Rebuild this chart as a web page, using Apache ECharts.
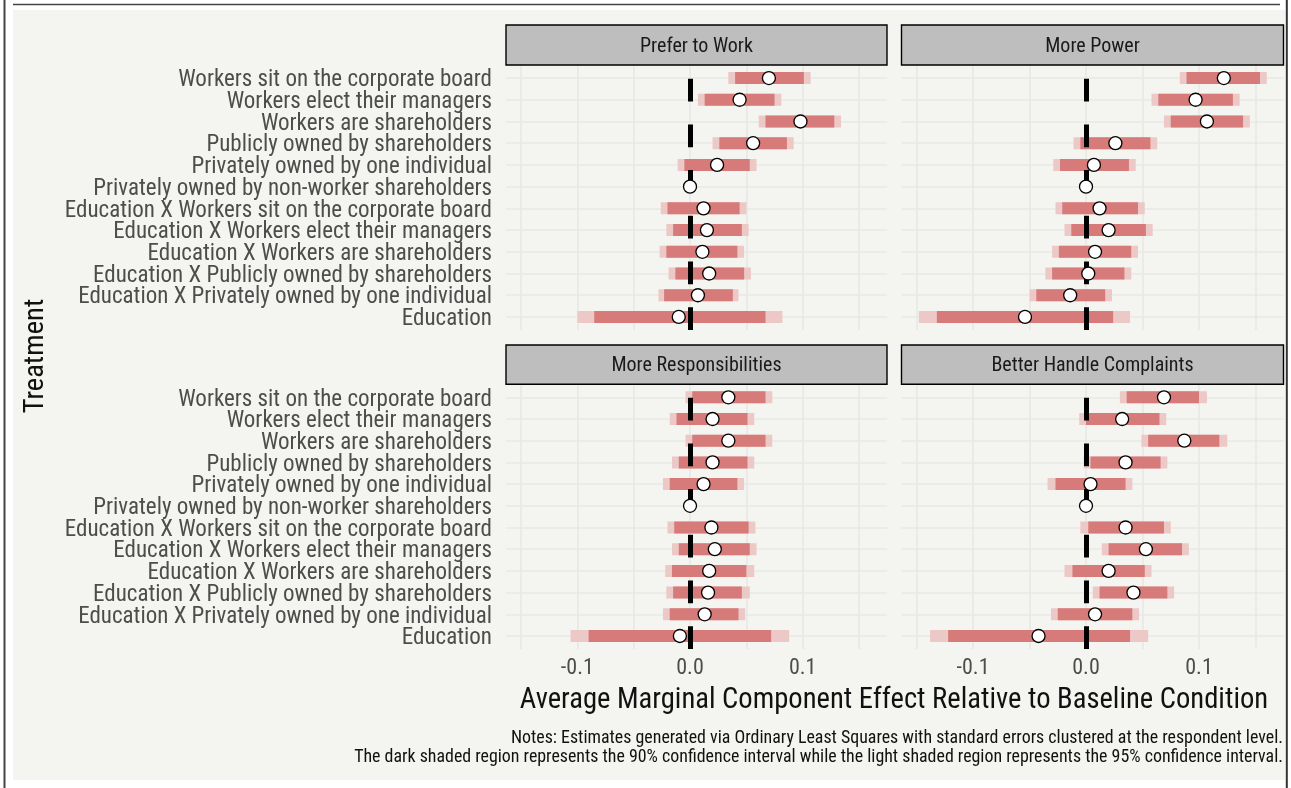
<!DOCTYPE html>
<html><head><meta charset="utf-8">
<script src="https://cdn.jsdelivr.net/npm/echarts@6/dist/echarts.min.js"></script>
<style>html,body{margin:0;padding:0;background:#ffffff}#c{width:1291px;height:788px}</style>
</head><body><div id="c"></div>
<script>
// ---------------- DATA ----------------
var categories = [
  "Workers sit on the corporate board",
  "Workers elect their managers",
  "Workers are shareholders",
  "Publicly owned by shareholders",
  "Privately owned by one individual",
  "Privately owned by non-worker shareholders",
  "Education X Workers sit on the corporate board",
  "Education X Workers elect their managers",
  "Education X Workers are shareholders",
  "Education X Publicly owned by shareholders",
  "Education X Privately owned by one individual",
  "Education"
];
var panelTitles = ["Prefer to Work", "More Power", "More Responsibilities", "Better Handle Complaints"];

var preferEst  = [0.070, 0.044, 0.098, 0.056, 0.024, 0, 0.012, 0.015, 0.011, 0.017, 0.007, -0.010];
var preferLo90 = [0.040, 0.013, 0.067, 0.026, -0.005, null, -0.020, -0.015, -0.021, -0.013, -0.023, -0.085];
var preferHi90 = [0.101, 0.075, 0.128, 0.086, 0.053, null, 0.044, 0.046, 0.042, 0.048, 0.038, 0.067];
var preferLo95 = [0.034, 0.007, 0.061, 0.020, -0.011, null, -0.026, -0.021, -0.027, -0.019, -0.028, -0.100];
var preferHi95 = [0.107, 0.081, 0.134, 0.092, 0.059, null, 0.050, 0.052, 0.048, 0.054, 0.043, 0.082];

var powerEst  = [0.122, 0.097, 0.107, 0.026, 0.007, 0, 0.012, 0.020, 0.008, 0.002, -0.014, -0.054];
var powerLo90 = [0.089, 0.064, 0.075, -0.005, -0.023, null, -0.021, -0.013, -0.024, -0.030, -0.044, -0.132];
var powerHi90 = [0.154, 0.130, 0.139, 0.057, 0.038, null, 0.046, 0.053, 0.040, 0.034, 0.017, 0.024];
var powerLo95 = [0.083, 0.058, 0.069, -0.011, -0.029, null, -0.027, -0.019, -0.030, -0.036, -0.050, -0.148];
var powerHi95 = [0.160, 0.136, 0.145, 0.063, 0.044, null, 0.052, 0.059, 0.046, 0.040, 0.023, 0.039];

var respEst  = [0.034, 0.020, 0.034, 0.020, 0.012, 0, 0.019, 0.022, 0.017, 0.016, 0.013, -0.009];
var respLo90 = [0.002, -0.012, 0.002, -0.010, -0.018, null, -0.014, -0.010, -0.016, -0.015, -0.018, -0.090];
var respHi90 = [0.067, 0.051, 0.067, 0.051, 0.042, null, 0.052, 0.053, 0.050, 0.046, 0.043, 0.072];
var respLo95 = [-0.004, -0.018, -0.004, -0.016, -0.024, null, -0.020, -0.016, -0.022, -0.021, -0.024, -0.106];
var respHi95 = [0.073, 0.057, 0.073, 0.057, 0.048, null, 0.058, 0.059, 0.057, 0.053, 0.049, 0.088];

var complEst  = [0.069, 0.032, 0.087, 0.035, 0.004, 0, 0.035, 0.053, 0.020, 0.042, 0.008, -0.042];
var complLo90 = [0.036, 0.000, 0.055, 0.004, -0.027, null, 0.002, 0.020, -0.012, 0.012, -0.025, -0.122];
var complHi90 = [0.100, 0.065, 0.118, 0.066, 0.035, null, 0.069, 0.085, 0.052, 0.072, 0.041, 0.039];
var complLo95 = [0.030, -0.006, 0.049, -0.002, -0.034, null, -0.005, 0.014, -0.019, 0.006, -0.031, -0.138];
var complHi95 = [0.107, 0.071, 0.125, 0.072, 0.041, null, 0.075, 0.091, 0.058, 0.078, 0.047, 0.055];

var xTickValues = [-0.1, 0.0, 0.1];
var xTickLabels = ["-0.1", "0.0", "0.1"];
var xGridValues = [-0.15, -0.1, -0.05, 0, 0.05, 0.1, 0.15];

var yTitle = "Treatment";
var xTitle = "Average Marginal Component Effect Relative to Baseline Condition";
var noteLines = [
  "Notes: Estimates generated via Ordinary Least Squares with standard errors clustered at the respondent level.",
  "The dark shaded region represents the 90% confidence interval while the light shaded region represents the 95% confidence interval."
];

// ---------------- LAYOUT / STYLE ----------------
var FONT = '"Roboto Condensed", Roboto, sans-serif';
var BG = '#f4f4f0';
var GRIDLINE = '#e8e8e5';
var DARK = '#d67b7a';
var LIGHT = '#ecc8c7';
var X_MIN = -0.1633, X_MAX = 0.1748;
var N = categories.length;

var panelData = [
  {est: preferEst, lo90: preferLo90, hi90: preferHi90, lo95: preferLo95, hi95: preferHi95},
  {est: powerEst,  lo90: powerLo90,  hi90: powerHi90,  lo95: powerLo95,  hi95: powerHi95},
  {est: respEst,   lo90: respLo90,   hi90: respHi90,   lo95: respLo95,   hi95: respHi95},
  {est: complEst,  lo90: complLo90,  hi90: complHi90,  lo95: complLo95,  hi95: complHi95}
];
var gridPos = [
  {left: 506, top: 65, width: 381, height: 265},
  {left: 901.5, top: 65, width: 382, height: 265},
  {left: 506, top: 384.3, width: 381, height: 264.7},
  {left: 901.5, top: 384.3, width: 382, height: 264.7}
];
var stripPos = [
  {x: 506, y: 25, w: 381, h: 40},
  {x: 901.5, y: 25, w: 382, h: 40},
  {x: 506, y: 345, w: 381, h: 39.3},
  {x: 901.5, y: 345, w: 382, h: 39.3}
];
var rowVals = [], evenRows = [], oddRows = [];
for (var r = 0; r < N; r++) { rowVals.push(r); (r % 2 === 0 ? evenRows : oddRows).push(r); }

function rowY(k) { return N - 1 - k; }

function barRenderer(color) {
  return function (params, api) {
    var y = api.value(2);
    var p1 = api.coord([api.value(0), y]);
    var p2 = api.coord([api.value(1), y]);
    var h = 12;
    return {type: 'rect', shape: {x: p1[0], y: p1[1] - h / 2, width: p2[0] - p1[0], height: h},
            style: {fill: color}};
  };
}
function yLabelStyle(values) {
  return {show: true, customValues: values, hideOverlap: false,
    formatter: function (v) { return categories[N - 1 - Math.round(v)]; },
    fontFamily: FONT, fontSize: 23, color: '#4d4d4d', margin: 14,
    verticalAlign: 'top', lineHeight: 5};
}

var grids = [], xAxes = [], yAxes = [], series = [];
panelData.forEach(function (pd, i) {
  grids.push({left: gridPos[i].left, top: gridPos[i].top, width: gridPos[i].width, height: gridPos[i].height, containLabel: false});
  xAxes.push({
    type: 'value', gridIndex: i, min: X_MIN, max: X_MAX,
    axisLine: {show: false},
    axisTick: {show: false, customValues: xGridValues},
    axisLabel: {show: i >= 2, customValues: xTickValues, hideOverlap: false,
      formatter: function (v) { var idx = xTickValues.indexOf(Math.round(v * 100) / 100); return idx >= 0 ? xTickLabels[idx] : ''; },
      fontFamily: FONT, fontSize: 22, color: '#4d4d4d', margin: 8},
    splitLine: {show: true, lineStyle: {color: GRIDLINE, width: 1.6}}
  });
  var yIdx = yAxes.length;
  var mainLabel = (i % 2 === 0) ? yLabelStyle(evenRows) : {show: false};
  yAxes.push({
    type: 'value', gridIndex: i, position: 'left', min: -0.6, max: N - 0.4,
    axisLine: {show: false},
    axisTick: {show: false, customValues: rowVals},
    axisLabel: mainLabel,
    splitLine: {show: true, lineStyle: {color: GRIDLINE, width: 1.6}}
  });
  if (i % 2 === 0) {
    yAxes.push({
      type: 'value', gridIndex: i, position: 'left', offset: 0, min: -0.6, max: N - 0.4,
      axisLine: {show: false},
      axisTick: {show: false, customValues: oddRows},
      axisLabel: yLabelStyle(oddRows),
      splitLine: {show: false}
    });
  }
  var d95 = [], d90 = [], pts = [];
  for (var k = 0; k < N; k++) {
    if (pd.lo95[k] !== null) d95.push([pd.lo95[k], pd.hi95[k], rowY(k)]);
    if (pd.lo90[k] !== null) d90.push([pd.lo90[k], pd.hi90[k], rowY(k)]);
    pts.push([pd.est[k], rowY(k)]);
  }
  series.push({type: 'custom', xAxisIndex: i, yAxisIndex: yIdx, z: 2, silent: true,
    renderItem: barRenderer(LIGHT), encode: {x: [0, 1], y: 2}, data: d95});
  series.push({type: 'custom', xAxisIndex: i, yAxisIndex: yIdx, z: 3, silent: true,
    renderItem: barRenderer(DARK), encode: {x: [0, 1], y: 2}, data: d90});
  series.push({type: 'line', xAxisIndex: i, yAxisIndex: yIdx, z: 4, data: [], silent: true,
    markLine: {silent: true, symbol: ['none', 'none'], label: {show: false}, animation: false,
      lineStyle: {color: '#000', width: 5, type: [22.8, 22.9], dashOffset: 0},
      emphasis: {disabled: true},
      data: [{xAxis: 0}]}});
  series.push({type: 'scatter', xAxisIndex: i, yAxisIndex: yIdx, z: 5, silent: true,
    symbol: 'circle', symbolSize: 13,
    itemStyle: {color: '#ffffff', borderColor: '#000000', borderWidth: 1.3, opacity: 1},
    data: pts});
});

var graphics = [
  {type: 'rect', z: -10, shape: {x: 13, y: 10, width: 1272, height: 770}, style: {fill: BG}},
  {type: 'line', z: 1, shape: {x1: 13, y1: 4.5, x2: 1280, y2: 4.5}, style: {stroke: '#444', lineWidth: 1.5}},
  {type: 'line', z: 1, shape: {x1: 4.5, y1: 0, x2: 4.5, y2: 788}, style: {stroke: '#444', lineWidth: 2}},
  {type: 'line', z: 1, shape: {x1: 1286.8, y1: 0, x2: 1286.8, y2: 788}, style: {stroke: '#333', lineWidth: 2}}
];
stripPos.forEach(function (s, i) {
  graphics.push({type: 'rect', z: 10, shape: {x: s.x, y: s.y, width: s.w, height: s.h},
    style: {fill: '#bebebe', stroke: '#000', lineWidth: 1.4}});
  graphics.push({type: 'text', z: 11, x: s.x + s.w / 2, y: s.y + s.h / 2 + 1.5,
    style: {text: panelTitles[i], fontFamily: FONT, fontSize: 20, fill: '#1a1a1a', align: 'center', verticalAlign: 'middle'}});
});
graphics.push({type: 'text', z: 11, x: 36, y: 356, rotation: Math.PI / 2,
  style: {text: yTitle, fontFamily: FONT, fontSize: 28.5, fill: '#111', align: 'center', verticalAlign: 'middle'}});
graphics.push({type: 'text', z: 11, x: 894, y: 700.5,
  style: {text: xTitle, fontFamily: FONT, fontSize: 28.6, fill: '#111', align: 'center', verticalAlign: 'middle'}});
graphics.push({type: 'text', z: 11, x: 1283, y: 739,
  style: {text: noteLines[0], fontFamily: FONT, fontSize: 17.9, fill: '#111', align: 'right', verticalAlign: 'middle'}});
graphics.push({type: 'text', z: 11, x: 1283, y: 757.5,
  style: {text: noteLines[1], fontFamily: FONT, fontSize: 17.9, fill: '#111', align: 'right', verticalAlign: 'middle'}});

var chart = echarts.init(document.getElementById('c'), null, {renderer: 'canvas'});
chart.setOption({
  animation: false,
  backgroundColor: '#ffffff',
  grid: grids, xAxis: xAxes, yAxis: yAxes, series: series, graphic: graphics
});
</script></body></html>
